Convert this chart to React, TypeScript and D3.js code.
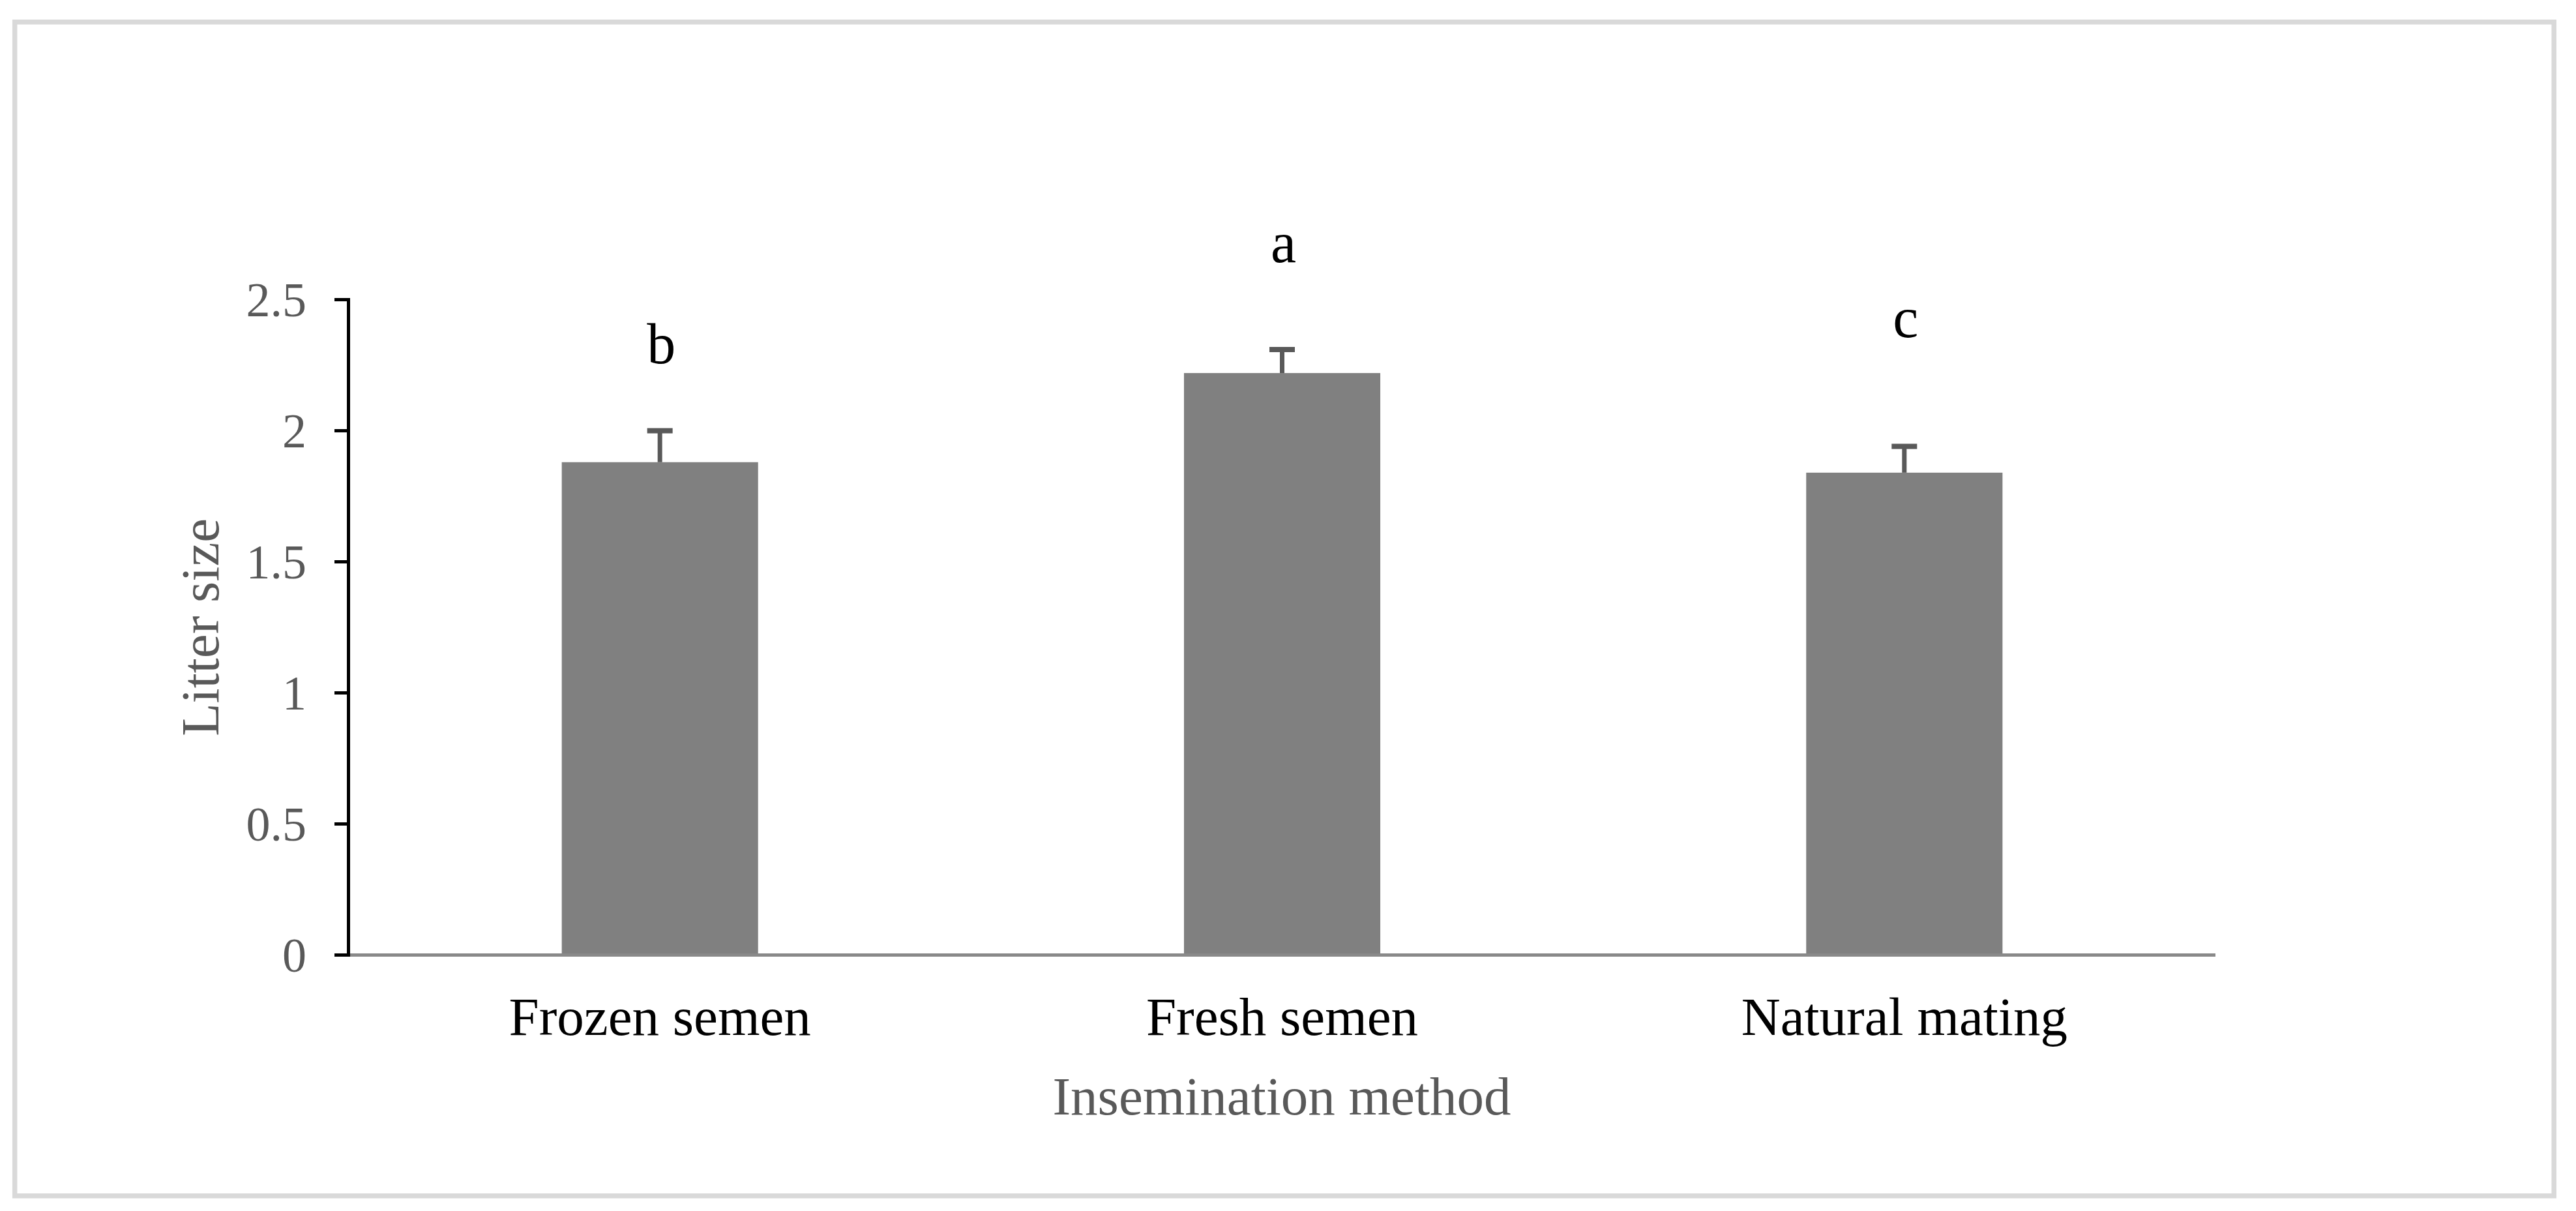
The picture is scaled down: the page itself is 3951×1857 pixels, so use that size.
import React from "react";
import * as d3 from "d3";

const categories = ["Frozen semen", "Fresh semen", "Natural mating"];
const litterSize = [1.88, 2.22, 1.84];
const errors = [0.12, 0.09, 0.1];
const letters = ["b", "a", "c"];
const letterLevels = [2.257, 2.643, 2.357];
const yTicks = [0, 0.5, 1, 1.5, 2, 2.5];
const yTickLabels = ["0", "0.5", "1", "1.5", "2", "2.5"];

const W = 3951;
const H = 1857;
const FONT = "'Liberation Serif', 'Times New Roman', serif";

export default function App() {
  const x = d3.scaleBand<string>().domain(categories).range([535, 3398]).padding(0);
  const y = d3.scaleLinear().domain([0, 2.5]).range([1464.5, 459.5]);
  const barW = x.bandwidth() * 0.3155;
  const capW = 39;
  const cx = (c: string) => (x(c) as number) + x.bandwidth() / 2;

  return (
    <svg
      width={W}
      height={H}
      viewBox={`0 0 ${W} ${H}`}
      style={{ position: "absolute", left: 0, top: 0, background: "#fff" }}
    >
      <rect x={0} y={0} width={W} height={H} fill="#ffffff" />
      <rect
        x={22.7}
        y={33.8}
        width={3917.2 - 22.7}
        height={1833.8 - 33.8}
        fill="none"
        stroke="#d9d9d9"
        strokeWidth={7.5}
      />

      {/* bars */}
      {categories.map((c, i) => (
        <rect
          key={c}
          x={cx(c) - barW / 2}
          y={y(litterSize[i])}
          width={barW}
          height={y(0) - y(litterSize[i])}
          fill="#808080"
        />
      ))}

      {/* x axis line */}
      <line x1={535} x2={3398} y1={y(0)} y2={y(0)} stroke="#898989" strokeWidth={5} />

      {/* error bars */}
      {categories.map((c, i) => {
        const top = y(litterSize[i] + errors[i]);
        return (
          <g key={c + "e"} stroke="#595959" strokeWidth={7}>
            <line x1={cx(c)} x2={cx(c)} y1={y(litterSize[i])} y2={top} />
            <line x1={cx(c) - capW / 2} x2={cx(c) + capW / 2} y1={top} y2={top} strokeWidth={8} />
          </g>
        );
      })}

      {/* significance letters */}
      {categories.map((c, i) => (
        <text
          key={c + "l"}
          x={cx(c) + 2}
          y={y(letterLevels[i])}
          textAnchor="middle"
          fontFamily={FONT}
          fontSize={88}
          fill="#000"
        >
          {letters[i]}
        </text>
      ))}

      {/* y axis */}
      <line x1={534.5} x2={534.5} y1={y(2.5) - 2.5} y2={y(0) + 2.5} stroke="#000" strokeWidth={5} />
      {yTicks.map((t, i) => (
        <g key={t}>
          <line x1={513} x2={536} y1={y(t)} y2={y(t)} stroke="#000" strokeWidth={5} />
          <text
            x={470}
            y={y(t) + 25}
            textAnchor="end"
            fontFamily={FONT}
            fontSize={74}
            fill="#595959"
          >
            {yTickLabels[i]}
          </text>
        </g>
      ))}

      {/* category labels */}
      {categories.map((c) => (
        <text
          key={c + "c"}
          x={cx(c)}
          y={1587}
          textAnchor="middle"
          fontFamily={FONT}
          fontSize={83}
          fill="#000"
        >
          {c}
        </text>
      ))}

      {/* axis titles */}
      <text
        x={1966}
        y={1709}
        textAnchor="middle"
        fontFamily={FONT}
        fontSize={83}
        fill="#595959"
      >
        Insemination method
      </text>
      <text
        transform={`translate(335, ${(y(0) + y(2.5)) / 2}) rotate(-90)`}
        textAnchor="middle"
        fontFamily={FONT}
        fontSize={83}
        fill="#595959"
      >
        Litter size
      </text>
    </svg>
  );
}
